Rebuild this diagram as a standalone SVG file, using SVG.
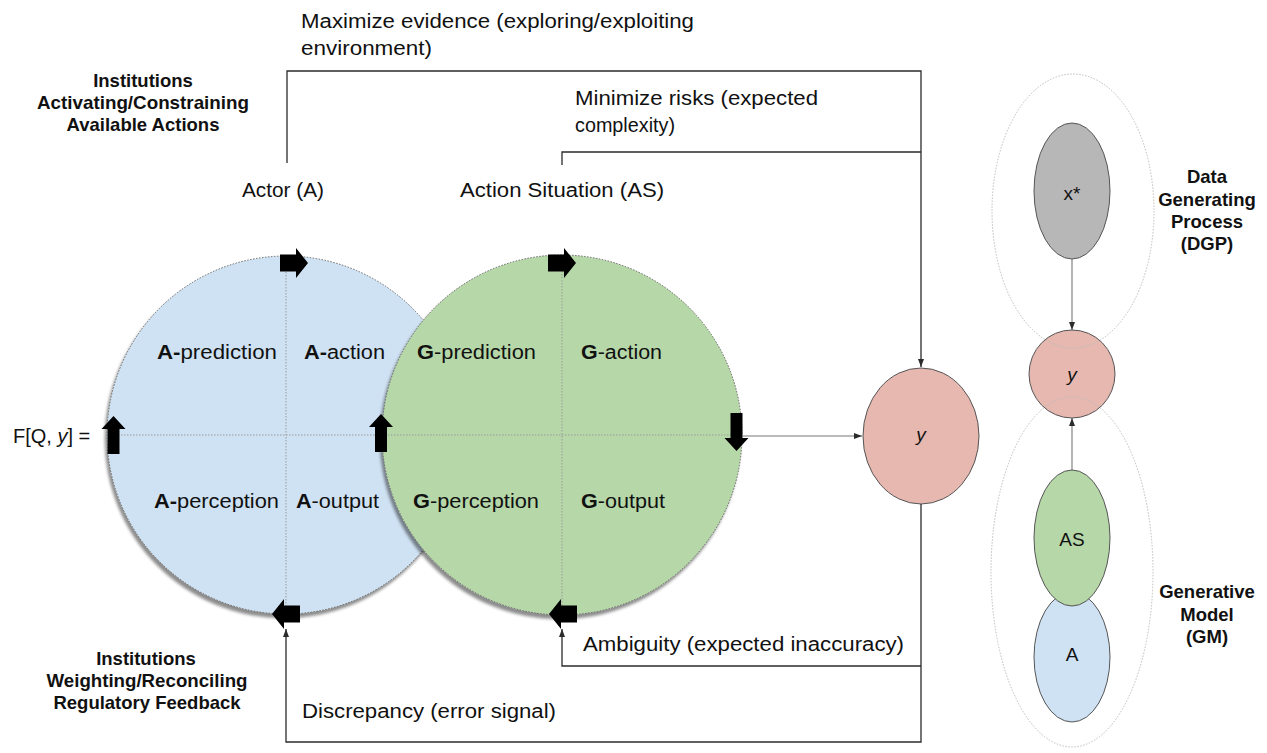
<svg xmlns="http://www.w3.org/2000/svg" width="1267" height="753" viewBox="0 0 1267 753">
<style>
text{font-family:"Liberation Sans",Arial,sans-serif;fill:#111}
.t{font-size:20px}
.q{font-size:20px}
.b{font-size:18.5px;font-weight:bold;text-anchor:middle}
.bb{font-weight:bold}
.conn{fill:none;stroke:#2b2b2b;stroke-width:1.3}
.thin{fill:none;stroke:#777;stroke-width:1.1}
.grid{stroke:#9a9a9a;stroke-width:1;stroke-dasharray:1.5 1.5;fill:none}
.big{stroke:#666;stroke-width:1;stroke-dasharray:1.5 1.5}
.node{stroke:#555;stroke-width:1}
.outer{fill:none;stroke:#bdbdbd;stroke-width:1;stroke-dasharray:1.5 1.5}
.blk{fill:#000}
.mid{text-anchor:middle;font-size:19px}
</style>
<defs>
<filter id="sh" x="-10%" y="-10%" width="120%" height="125%">
<feDropShadow dx="-2" dy="4" stdDeviation="1.8" flood-color="#000" flood-opacity="0.45"/>
</filter>
<marker id="ah" viewBox="0 0 8 6" refX="8" refY="3" markerWidth="8" markerHeight="6" markerUnits="userSpaceOnUse" orient="auto">
<path d="M0,0 L8,3 L0,6 z" fill="#2b2b2b"/>
</marker>
<path id="arrH" d="M0,-8.5 H16 V-15 L28,0 L16,15 V8.5 H0 z"/>
<path id="arrV" d="M-6,0 V-25 H-12 L0,-38 L12,-25 H6 V0 z"/>
</defs>

<g id="actor">
<circle cx="286" cy="435" r="179" fill="#cfe2f3" class="big" filter="url(#sh)"/>
<line x1="286" y1="257" x2="286" y2="613" class="grid"/>
</g>
<g id="action-situation">
<circle cx="562" cy="435" r="180" fill="#b6d7a8" class="big" filter="url(#sh)"/>
<line x1="562" y1="256" x2="562" y2="614" class="grid"/>
<line x1="106" y1="435" x2="742" y2="435" class="grid"/>
</g>

<g id="quadrant-labels">
<text class="q" x="157" y="359" textLength="120" lengthAdjust="spacingAndGlyphs"><tspan class="bb">A-</tspan>prediction</text>
<text class="q" x="304" y="359" textLength="81" lengthAdjust="spacingAndGlyphs"><tspan class="bb">A-</tspan>action</text>
<text class="q" x="154" y="508" textLength="125" lengthAdjust="spacingAndGlyphs"><tspan class="bb">A-</tspan>perception</text>
<text class="q" x="296" y="508" textLength="83" lengthAdjust="spacingAndGlyphs"><tspan class="bb">A</tspan>-output</text>
<text class="q" x="417" y="359" textLength="119" lengthAdjust="spacingAndGlyphs"><tspan class="bb">G</tspan>-prediction</text>
<text class="q" x="581" y="359" textLength="81" lengthAdjust="spacingAndGlyphs"><tspan class="bb">G</tspan>-action</text>
<text class="q" x="413" y="508" textLength="126" lengthAdjust="spacingAndGlyphs"><tspan class="bb">G</tspan>-perception</text>
<text class="q" x="581" y="508" textLength="84" lengthAdjust="spacingAndGlyphs"><tspan class="bb">G</tspan>-output</text>
</g>

<g id="block-arrows">
<use href="#arrH" class="blk" transform="translate(280,263)"/>
<use href="#arrH" class="blk" transform="translate(548,263)"/>
<use href="#arrH" class="blk" transform="translate(300,614) scale(-1,1)"/>
<use href="#arrH" class="blk" transform="translate(577,614) scale(-1,1)"/>
<use href="#arrV" class="blk" transform="translate(113.5,454)"/>
<use href="#arrV" class="blk" transform="translate(381,452)"/>
<use href="#arrV" class="blk" transform="translate(736.5,413) scale(1,-1)"/>
</g>

<g id="y-node">
<ellipse cx="921" cy="436" rx="58" ry="68" fill="#e6b8af" class="node"/>
<text x="921" y="441" class="mid" font-size="20" font-style="italic">y</text>
</g>

<g id="connectors">
<path d="M287,163 V71 H921 V367" class="conn" marker-end="url(#ah)"/>
<path d="M562,165 V152 H921" class="conn"/>
<path d="M742,436 H862" class="thin" marker-end="url(#ah)"/>
<path d="M921,504 V742 H286 V629" class="conn" marker-end="url(#ah)"/>
<path d="M921,666 H562 V629" class="conn" marker-end="url(#ah)"/>
<path d="M1072,259 V330" class="thin" marker-end="url(#ah)"/>
<path d="M1072,470 V418" class="thin" marker-end="url(#ah)"/>
</g>

<g id="labels">
<text class="t" x="301" y="28" textLength="393" lengthAdjust="spacingAndGlyphs">Maximize evidence (exploring/exploiting</text>
<text class="t" x="301" y="55" textLength="131" lengthAdjust="spacingAndGlyphs">environment)</text>
<text class="t" x="575" y="105" textLength="243" lengthAdjust="spacingAndGlyphs">Minimize risks (expected</text>
<text class="t" x="575" y="132" textLength="100" lengthAdjust="spacingAndGlyphs">complexity)</text>
<text class="t" x="242" y="197" textLength="82" lengthAdjust="spacingAndGlyphs">Actor (A)</text>
<text class="t" x="460" y="197" textLength="204" lengthAdjust="spacingAndGlyphs">Action Situation (AS)</text>
<text class="t" x="583" y="651" textLength="321" lengthAdjust="spacingAndGlyphs">Ambiguity (expected inaccuracy)</text>
<text class="t" x="302" y="718" textLength="254" lengthAdjust="spacingAndGlyphs">Discrepancy (error signal)</text>
<text class="t" x="13" y="443">F[Q, <tspan font-style="italic">y</tspan>] =</text>
</g>

<g id="institutions-top">
<text class="b" x="143" y="87">Institutions</text>
<text class="b" x="143" y="109" textLength="212" lengthAdjust="spacingAndGlyphs">Activating/Constraining</text>
<text class="b" x="143" y="131">Available Actions</text>
</g>
<g id="institutions-bottom">
<text class="b" x="146" y="665">Institutions</text>
<text class="b" x="147" y="687" textLength="201" lengthAdjust="spacingAndGlyphs">Weighting/Reconciling</text>
<text class="b" x="147" y="709">Regulatory Feedback</text>
</g>

<g id="dgp-gm">
<ellipse cx="1072" cy="191" rx="38" ry="68" fill="#b7b7b7" class="node"/>
<text x="1072" y="200" class="mid">x*</text>
<ellipse cx="1072" cy="657" rx="38" ry="65" fill="#cfe2f3" class="node"/>
<text x="1072" y="661" class="mid">A</text>
<ellipse cx="1072" cy="538" rx="38" ry="68" fill="#b6d7a8" class="node"/>
<text x="1072" y="546" class="mid">AS</text>
<ellipse cx="1072" cy="374" rx="43" ry="44" fill="#e6b8af" class="node"/>
<text x="1072" y="381" class="mid" font-style="italic">y</text>
<ellipse cx="1073" cy="211" rx="81" ry="137" class="outer"/>
<ellipse cx="1072" cy="572" rx="81" ry="175" class="outer"/>
<text class="b" x="1207" y="183">Data</text>
<text class="b" x="1207" y="206">Generating</text>
<text class="b" x="1207" y="228">Process</text>
<text class="b" x="1207" y="250">(DGP)</text>
<text class="b" x="1207" y="598">Generative</text>
<text class="b" x="1207" y="621">Model</text>
<text class="b" x="1207" y="643">(GM)</text>
</g>
</svg>
